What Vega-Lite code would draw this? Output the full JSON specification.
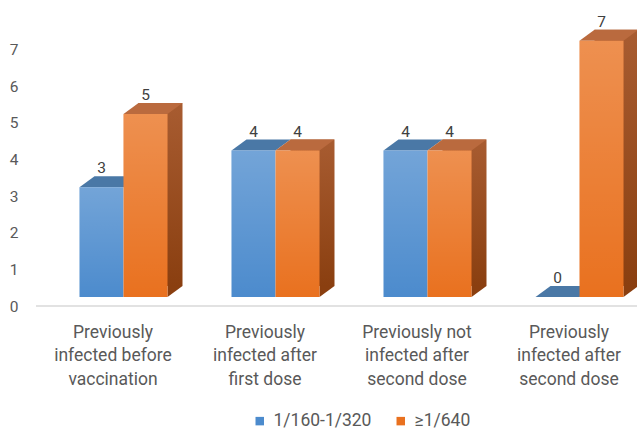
{
  "$schema": "https://vega.github.io/schema/vega-lite/v6.json",
  "width": 601,
  "height": 293,
  "autosize": {"type": "none"},
  "padding": {"left": 36, "top": 13, "right": 0, "bottom": 125},
  "config": {"font": "Roboto", "view": {"stroke": null}},
  "datasets": {
    "bars": [
      {"group": "Previously\ninfected before\nvaccination", "series": "1/160-1/320", "value": 3},
      {"group": "Previously\ninfected before\nvaccination", "series": "≥1/640", "value": 5},
      {"group": "Previously\ninfected after\nfirst dose", "series": "1/160-1/320", "value": 4},
      {"group": "Previously\ninfected after\nfirst dose", "series": "≥1/640", "value": 4},
      {"group": "Previously not\ninfected after\nsecond dose", "series": "1/160-1/320", "value": 4},
      {"group": "Previously not\ninfected after\nsecond dose", "series": "≥1/640", "value": 4},
      {"group": "Previously\ninfected after\nsecond dose", "series": "1/160-1/320", "value": 0},
      {"group": "Previously\ninfected after\nsecond dose", "series": "≥1/640", "value": 7}
    ],
    "cats": [
      {"group": "Previously\ninfected before\nvaccination"},
      {"group": "Previously\ninfected after\nfirst dose"},
      {"group": "Previously not\ninfected after\nsecond dose"},
      {"group": "Previously\ninfected after\nsecond dose"}
    ]
  },
  "resolve": {"scale": {"x": "independent"}},
  "layer": [
    {
      "data": {"values": [{"baseline": 0}]},
      "mark": {"type": "rule", "color": "#D9D9D9", "strokeWidth": 1.5},
      "encoding": {
        "y": {"field": "baseline", "type": "quantitative", "scale": {"domain": [0, 8], "nice": false}, "axis": {"title": null, "values": [0,1,2,3,4,5,6,7], "domain": false, "ticks": false, "grid": false, "labelPadding": 18, "labelFontSize": 15.5, "labelColor": "#595959"}}
      }
    },
    {
      "data": {"name": "bars"},
      "resolve": {"scale": {"xOffset": "independent"}},
      "layer": [
        {
          "transform": [{"filter": "datum.series !== '1/160-1/320'"}],
          "mark": {"type": "bar", "yOffset": -20, "y2Offset": -20,
            "fill": {"gradient": "linear", "x1": 0, "y1": 0, "x2": 0, "y2": 1, "stops": [{"offset": 0, "color": "#A85C31"}, {"offset": 1, "color": "#8A3F10"}]}},
          "encoding": {
            "x": {"field": "group", "type": "nominal", "sort": null, "axis": null, "scale": {"type": "band", "range": [11.5, 619.5], "paddingInner": 0.42105, "paddingOuter": 0.210525}},
            "xOffset": {"field": "series", "type": "nominal", "scale": {"type": "band", "domain": ["1/160-1/320", "≥1/640"], "range": [15, 103], "paddingInner": 0, "paddingOuter": 0}},
            "y": {"field": "value", "type": "quantitative"}
          }
        },
        {
          "transform": [{"filter": "datum.series !== '1/160-1/320'"}],
          "mark": {"type": "point", "shape": "M22,0L37,-11L22,-11Z", "size": 4, "filled": true, "opacity": 1, "fill": "#8A3F10", "strokeWidth": 0, "yOffset": -9},
          "encoding": {
            "x": {"field": "group", "type": "nominal", "sort": null},
            "xOffset": {"field": "series", "type": "nominal", "scale": {"type": "band", "domain": ["1/160-1/320", "≥1/640"], "paddingInner": 0, "paddingOuter": 0}},
            "y": {"datum": 0}
          }
        },
        {
          "transform": [{"filter": "datum.series === '1/160-1/320'"}],
          "mark": {"type": "point", "shape": "M-22,0L22,0L37,-11L-7,-11Z", "size": 4, "filled": true, "opacity": 1, "fill": "#4A78A6", "strokeWidth": 0, "yOffset": -9},
          "encoding": {
            "x": {"field": "group", "type": "nominal", "sort": null},
            "xOffset": {"field": "series", "type": "nominal", "scale": {"type": "band", "domain": ["1/160-1/320", "≥1/640"], "paddingInner": 0, "paddingOuter": 0}},
            "y": {"field": "value", "type": "quantitative"}
          }
        },
        {
          "transform": [{"filter": "datum.series !== '1/160-1/320'"}],
          "mark": {"type": "point", "shape": "M-22,0L22,0L37,-11L-7,-11Z", "size": 4, "filled": true, "opacity": 1, "fill": "#BA6A3E", "strokeWidth": 0, "yOffset": -9},
          "encoding": {
            "x": {"field": "group", "type": "nominal", "sort": null},
            "xOffset": {"field": "series", "type": "nominal", "scale": {"type": "band", "domain": ["1/160-1/320", "≥1/640"], "paddingInner": 0, "paddingOuter": 0}},
            "y": {"field": "value", "type": "quantitative"}
          }
        },
        {
          "mark": {"type": "bar", "yOffset": -9, "y2Offset": -9},
          "encoding": {
            "x": {"field": "group", "type": "nominal", "sort": null},
            "xOffset": {"field": "series", "type": "nominal", "scale": {"type": "band", "domain": ["1/160-1/320", "≥1/640"], "paddingInner": 0, "paddingOuter": 0}},
            "y": {"field": "value", "type": "quantitative"},
            "color": {"field": "series", "type": "nominal", "scale": {"domain": ["1/160-1/320", "≥1/640"], "range": ["#4C8BCD", "#E9711F"]},
              "legend": {"orient": "none", "legendX": 215, "legendY": 399, "direction": "horizontal", "title": null, "symbolType": "square", "symbolSize": 72, "symbolStrokeWidth": 0, "labelFontSize": 17.5, "labelColor": "#595959", "columnPadding": 20, "labelOffset": 5}}
          }
        },
        {
          "mark": {"type": "bar", "yOffset": -9, "y2Offset": -9,
            "fill": {"gradient": "linear", "x1": 0, "y1": 0, "x2": 0, "y2": 1, "stops": [{"offset": 0, "color": "rgba(255,255,255,0.22)"}, {"offset": 1, "color": "rgba(255,255,255,0)"}]}},
          "encoding": {
            "x": {"field": "group", "type": "nominal", "sort": null},
            "xOffset": {"field": "series", "type": "nominal", "scale": {"type": "band", "domain": ["1/160-1/320", "≥1/640"], "paddingInner": 0, "paddingOuter": 0}},
            "y": {"field": "value", "type": "quantitative"}
          }
        },
        {
          "mark": {"type": "text", "dy": -23, "baseline": "alphabetic", "fontSize": 15.5, "color": "#404040"},
          "encoding": {
            "x": {"field": "group", "type": "nominal", "sort": null},
            "xOffset": {"field": "series", "type": "nominal", "scale": {"type": "band", "domain": ["1/160-1/320", "≥1/640"], "paddingInner": 0, "paddingOuter": 0}},
            "y": {"field": "value", "type": "quantitative"},
            "text": {"field": "value", "type": "quantitative"}
          }
        }
      ]
    },
    {
      "data": {"name": "cats"},
      "mark": {"type": "text", "lineBreak": "\n", "baseline": "top", "dy": 17.5, "lineHeight": 23.5, "fontSize": 17.5, "color": "#595959"},
      "encoding": {
        "x": {"field": "group", "type": "nominal", "sort": null, "axis": null, "scale": {"type": "band", "range": [1, 609], "paddingInner": 0, "paddingOuter": 0}},
        "y": {"datum": 0},
        "text": {"field": "group", "type": "nominal"}
      }
    }
  ]
}
